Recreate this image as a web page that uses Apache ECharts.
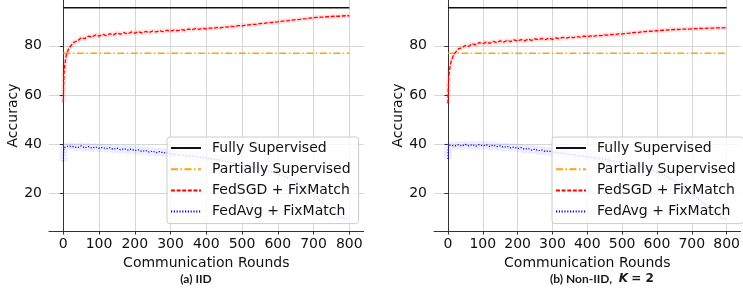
<!DOCTYPE html>
<html>
<head>
<meta charset="utf-8">
<script src="https://cdn.jsdelivr.net/npm/echarts@6/dist/echarts.min.js"></script>
<style>
  html, body { margin: 0; padding: 0; background: #fff; }
  #chart { width: 743px; height: 294px; }
</style>
</head>
<body>
<div id="chart"></div>
<script>
const rounds = [0, 1, 2, 4, 6, 8, 10, 15, 20, 25,
  30, 40, 50, 60, 70, 80, 90, 100,
  110, 120, 130, 140, 150, 160, 170, 180, 190, 200,
  210, 220, 230, 240, 250, 260, 270, 280, 290, 300,
  310, 320, 330, 340, 350, 360, 370, 380, 390, 400,
  410, 420, 430, 440, 450, 460, 470, 480, 490, 500,
  510, 520, 530, 540, 550, 560, 570, 580, 590, 600,
  610, 620, 630, 640, 650, 660, 670, 680, 690, 700,
  710, 720, 730, 740, 750, 760, 770, 780, 790, 800];

// (a) IID
const iidFedSGD = [57, 64, 69, 72, 74, 76, 77, 78.8, 79.8, 80.6,
  81.5, 82.0, 83.3, 82.9, 83.9, 83.5, 84.4, 83.9,
  84.6, 84.1, 84.9, 84.4, 85.2, 84.7, 85.3, 84.8, 85.6, 85.1,
  85.7, 85.2, 85.8, 85.4, 86.0, 85.6, 86.1, 85.7, 86.3, 85.9,
  86.4, 86.1, 86.6, 86.3, 86.8, 86.5, 87.0, 86.7, 87.1, 86.9,
  87.2, 87.1, 87.4, 87.3, 87.7, 87.6, 87.9, 87.8, 88.2, 88.1,
  88.4, 88.5, 88.7, 88.7, 89.0, 89.1, 89.3, 89.4, 89.6, 89.7,
  89.9, 90.1, 90.2, 90.4, 90.6, 90.7, 90.9, 91.0, 91.2, 91.4,
  91.5, 91.6, 91.7, 91.8, 91.9, 92.0, 92.0, 92.1, 92.2, 92.2];
const iidFedAvg = [33, 37.5, 38.5, 38.8, 38.3, 39.0, 38.6, 39.2, 38.7, 39.1,
  39.1, 38.6, 39.3, 38.5, 39.0, 38.4, 38.9, 38.3,
  38.7, 38.1, 38.5, 37.9, 38.4, 37.7, 38.2, 37.6, 38.0, 37.4,
  37.7, 37.0, 37.5, 36.8, 37.2, 36.5, 37.0, 36.4, 36.6, 36.0,
  35.9, 35.7, 35.6, 35.4, 35.3, 35.1, 34.9, 34.7, 34.5, 34.3,
  34.1, 33.9, 33.7, 33.4, 33.2, 32.9, 32.6, 32.4, 32.1, 31.8,
  31.5, 31.2, 30.8, 30.5, 30.1, 29.7, 29.3, 28.9, 28.4, 27.9,
  27.4, 26.8, 26.2, 25.5, 24.7, 23.8, 22.8, 21.8, 20.7, 19.5,
  18.2, 16.9, 15.5, 14.1, 12.8, 11.7, 10.8, 10.1, 9.7, 9.4];

// (b) Non-IID, K = 2
const nonIidFedSGD = [56.5, 63, 66.5, 69.5, 71.5, 72.8, 74, 75.8, 77, 77.8,
  78.7, 79.2, 80.1, 79.8, 80.8, 80.4, 81.3, 80.8,
  81.5, 81.0, 81.8, 81.3, 82.0, 81.5, 82.2, 81.7, 82.4, 81.9,
  82.5, 82.0, 82.7, 82.2, 82.8, 82.4, 83.0, 82.5, 83.1, 82.6,
  83.2, 82.9, 83.4, 83.1, 83.5, 83.3, 83.7, 83.5, 83.9, 83.7,
  84.0, 83.9, 84.2, 84.1, 84.4, 84.3, 84.6, 84.5, 84.8, 84.8,
  85.0, 85.1, 85.3, 85.4, 85.5, 85.7, 85.8, 85.9, 86.0, 86.1,
  86.2, 86.3, 86.4, 86.5, 86.6, 86.6, 86.7, 86.8, 86.8, 86.9,
  87.0, 87.0, 87.1, 87.1, 87.2, 87.2, 87.3, 87.3, 87.3, 87.4];
const nonIidFedAvg = [34, 38.5, 39.3, 39.6, 39.2, 39.7, 39.4, 39.8, 39.3, 39.7,
  39.7, 39.2, 39.9, 39.3, 39.8, 39.2, 39.8, 39.3,
  39.7, 39.1, 39.6, 39.0, 39.3, 38.7, 39.1, 38.5, 38.8, 38.2,
  38.6, 37.9, 38.3, 37.6, 38.0, 37.3, 37.6, 37.0, 37.2, 36.8,
  36.6, 36.5, 36.3, 36.1, 35.9, 35.7, 35.5, 35.3, 35.1, 34.9,
  34.7, 34.5, 34.3, 34.1, 33.8, 33.6, 33.3, 33.1, 32.8, 32.5,
  32.2, 31.9, 31.6, 31.3, 30.9, 30.5, 30.1, 29.6, 29.1, 28.6,
  28.0, 27.4, 26.7, 25.9, 25.1, 24.2, 23.3, 22.3, 21.2, 20.1,
  18.9, 17.6, 16.3, 15.0, 13.7, 12.5, 11.4, 10.5, 9.9, 9.5];

// reference baselines
const fullySupervised = 95.4;
const partiallySupervised = 77.0;

const xTicks = [0, 100, 200, 300, 400, 500, 600, 700, 800];
const yTicks = [20, 40, 60, 80];
const seriesNames = ['Fully Supervised', 'Partially Supervised', 'FedSGD + FixMatch', 'FedAvg + FixMatch'];

const FONT = 'DejaVu Sans';
const chart = echarts.init(document.getElementById('chart'), null, { renderer: 'canvas' });

function pair(values) {
  return rounds.map((r, i) => [r, values[i]]);
}

function xAxisFor(gridIndex) {
  return {
    type: 'value', gridIndex, min: -40, max: 840,
    name: 'Communication Rounds', nameLocation: 'middle', nameGap: 21,
    nameTextStyle: { fontFamily: FONT, fontSize: 14, color: '#111' },
    axisLine: { show: true, onZero: false, lineStyle: { color: '#333', width: 1 } },
    axisTick: { show: true, customValues: xTicks, length: 3.5, lineStyle: { color: '#333' } },
    axisLabel: { customValues: xTicks, margin: 6, fontFamily: FONT, fontSize: 14, color: '#111' },
    splitLine: { show: true, lineStyle: { color: '#d6d6d6', width: 1 } },
  };
}

function yAxisFor(gridIndex) {
  return {
    type: 'value', gridIndex, min: 4.7, max: 98.6,
    name: 'Accuracy', nameLocation: 'middle', nameGap: 29,
    nameTextStyle: { fontFamily: FONT, fontSize: 14, color: '#111' },
    axisLine: { show: true, lineStyle: { color: '#333', width: 1 } },
    axisTick: { show: true, customValues: yTicks, length: 3.5, lineStyle: { color: '#333' } },
    axisLabel: { customValues: yTicks, margin: 7, fontFamily: FONT, fontSize: 14, color: '#111' },
    splitLine: { show: true, lineStyle: { color: '#d6d6d6', width: 1 } },
  };
}

function panelSeries(idx, fedSGD, fedAvg) {
  const common = { type: 'line', xAxisIndex: idx, yAxisIndex: idx, showSymbol: false, symbol: 'none', silent: true };
  const line = (name, data, color, width, type) => ({
    ...common, name, data, itemStyle: { color }, lineStyle: { color, width, type },
  });
  return [
    // faint spread bands
    { ...common, data: pair(fedSGD), z: 1, lineStyle: { color: 'rgba(255,0,0,0.10)', width: 5 } },
    { ...common, data: pair(fedAvg), z: 1, lineStyle: { color: 'rgba(60,60,255,0.09)', width: 8 } },
    line(seriesNames[0], [[0, fullySupervised], [800, fullySupervised]], '#111', 1.5, 'solid'),
    line(seriesNames[1], [[0, partiallySupervised], [800, partiallySupervised]], '#ffa500', 1.5, [7, 2.5, 1.5, 2.5]),
    line(seriesNames[2], pair(fedSGD), '#ff0000', 1.3, [4, 1.6]),
    line(seriesNames[3], pair(fedAvg), '#0000ff', 1.2, [1.2, 1.6]),
  ];
}

function legendAt(left) {
  return {
    data: seriesNames, orient: 'vertical', left, top: 137,
    itemWidth: 30, itemHeight: 14, itemGap: 7.2,
    padding: [4, 8, 5, 3],
    itemStyle: { opacity: 0 },
    backgroundColor: 'rgba(255,255,255,0.8)', borderColor: '#cccccc', borderWidth: 1, borderRadius: 3,
    textStyle: { fontFamily: FONT, fontSize: 14, color: '#111', padding: [0, 0, 0, 6] },
    selectedMode: false,
  };
}

chart.setOption({
  animation: false,
  grid: [
    { left: 49, top: 0, width: 314.6, height: 231 },
    { left: 434, top: 0, width: 314.6, height: 231 },
  ],
  xAxis: [xAxisFor(0), xAxisFor(1)],
  yAxis: [yAxisFor(0), yAxisFor(1)],
  legend: [legendAt(167), legendAt(552)],
  series: [...panelSeries(0, iidFedSGD, iidFedAvg), ...panelSeries(1, nonIidFedSGD, nonIidFedAvg)],
  graphic: [
    { type: 'text', x: 196, y: 279,
      style: { text: '(a) IID', fontFamily: 'Lato', fontWeight: 'bold', fontSize: 12, fill: '#1a1a1a',
        align: 'center', verticalAlign: 'middle' } },
    { type: 'text', x: 602, y: 279,
      style: {
        text: '{b|(b) Non-IID,}  {k|K} {m|= 2}', align: 'center', verticalAlign: 'middle',
        rich: {
          b: { fontFamily: 'Lato', fontWeight: 'bold', fontSize: 12, fill: '#1a1a1a' },
          k: { fontFamily: FONT, fontStyle: 'italic', fontWeight: 'bold', fontSize: 12, fill: '#1a1a1a' },
          m: { fontFamily: FONT, fontWeight: 'bold', fontSize: 12, fill: '#1a1a1a' },
        },
      } },
  ],
});
</script>
</body>
</html>
